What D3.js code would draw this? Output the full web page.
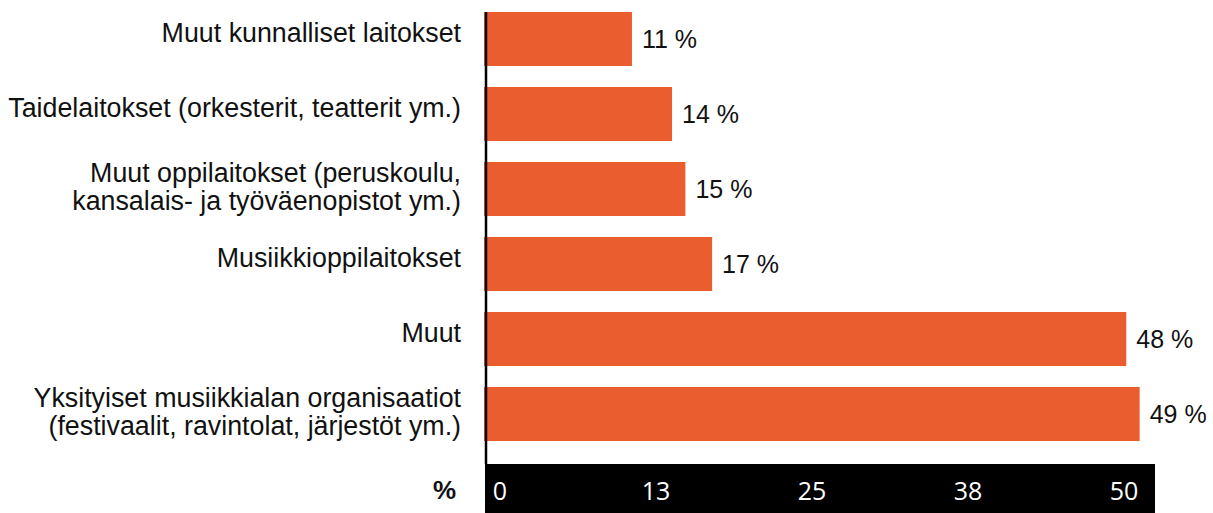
<!DOCTYPE html>
<html>
<head>
<meta charset="utf-8">
<script src="https://cdn.jsdelivr.net/npm/d3@7"></script>
<style>
  body { margin: 0; background: #fff; }
  text { font-family: "Liberation Sans", Arial, Helvetica, sans-serif; }
</style>
</head>
<body>
<script>
// data
var categories = [
    ['Muut kunnalliset laitokset'],
    ['Taidelaitokset (orkesterit, teatterit ym.)'],
    ['Muut oppilaitokset (peruskoulu,', 'kansalais- ja työväenopistot ym.)'],
    ['Musiikkioppilaitokset'],
    ['Muut'],
    ['Yksityiset musiikkialan organisaatiot', '(festivaalit, ravintolat, järjestöt ym.)']
];
var values = [11, 14, 15, 17, 48, 49];
var tickValues = [0, 12.5, 25, 37.5, 50];
var axisTitle = '%';

var width = 1213, height = 513;
var barColor = '#ea5d2e';

var svg = d3.select('body')
    .append('svg')
    .attr('width', width)
    .attr('height', height)

var ids = categories.map((c, i) => i)

//scales
var xScale = d3.scaleLinear()
    .domain([0, 50])
    .range([485, 1153])

var yScale = d3.scaleBand()
    .domain(ids)
    .range([1.5, 451.5])
    .paddingInner(0.28)
    .paddingOuter(0.14)

// tick labels sit evenly inside the black band
var tickScale = d3.scaleLinear()
    .domain([0, 50])
    .range([500, 1124])

//bars
svg.selectAll('.bar')
    .data(values)
    .enter()
    .append('rect')
    .attr('class', 'bar')
    .attr('x', xScale(0) - 1)
    .attr('y', (d, i) => yScale(i))
    .attr('width', d => xScale(d) - xScale(0) + 1)
    .attr('height', yScale.bandwidth())
    .attr('fill', barColor)

//value labels
svg.selectAll('.val')
    .data(values)
    .enter()
    .append('text')
    .attr('class', 'val')
    .attr('x', d => xScale(d) + 10)
    .attr('y', (d, i) => yScale(i) + yScale.bandwidth() / 2)
    .attr('dominant-baseline', 'central')
    .attr('font-size', 25)
    .attr('fill', '#111')
    .text(d => d + ' %')

//category labels
var cat = svg.selectAll('.cat')
    .data(categories)
    .enter()
    .append('text')
    .attr('class', 'cat')
    .attr('text-anchor', 'end')
    .attr('font-size', 26.8)
    .attr('fill', '#111')

cat.selectAll('tspan')
    .data((d, i) => d.map(t => ({t: t, i: i, n: d.length})))
    .enter()
    .append('tspan')
    .attr('x', 461)
    .attr('y', (d, j) => yScale(d.i) + yScale.bandwidth() / 2 + (d.n == 1 ? -6 : (j - 0.5) * 28 - 2))
    .attr('dominant-baseline', 'central')
    .text(d => d.t)

//axis band
var band = svg.append('g')

band.append('rect')
    .attr('x', xScale(0))
    .attr('y', 464)
    .attr('width', 1155 - xScale(0))
    .attr('height', height - 464)
    .attr('fill', '#000')

band.selectAll('.tick')
    .data(tickValues)
    .enter()
    .append('text')
    .attr('class', 'tick')
    .attr('x', d => tickScale(d))
    .attr('y', 490)
    .attr('text-anchor', 'middle')
    .attr('dominant-baseline', 'central')
    .attr('font-size', 25)
    .attr('fill', '#fff')
    .style('font-family', '"Open Sans", sans-serif')
    .text(d => d3.format('.0f')(d))

svg.append('text')
    .attr('x', 456)
    .attr('y', 490)
    .attr('text-anchor', 'end')
    .attr('dominant-baseline', 'central')
    .attr('font-size', 26)
    .attr('font-weight', 'bold')
    .attr('fill', '#111')
    .text(axisTitle)

//vertical axis line
svg.append('line')
    .attr('x1', 486)
    .attr('x2', 486)
    .attr('y1', yScale(0))
    .attr('y2', 464)
    .attr('stroke', '#000')
    .attr('stroke-width', 2.5)
</script>
</body>
</html>
